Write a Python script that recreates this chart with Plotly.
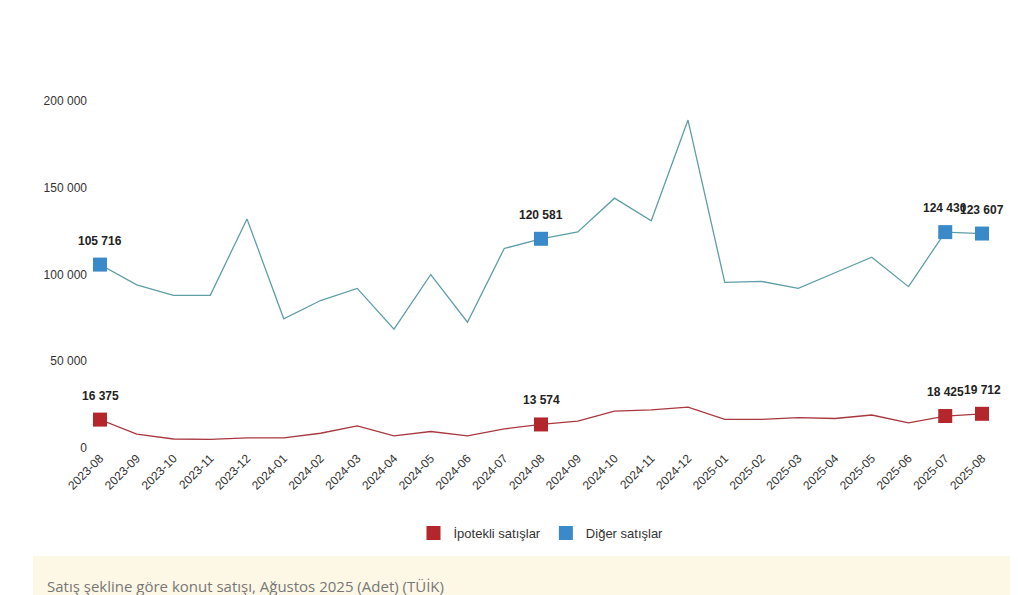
import plotly.graph_objects as go

months = ["2023-08","2023-09","2023-10","2023-11","2023-12","2024-01","2024-02","2024-03","2024-04","2024-05","2024-06","2024-07","2024-08","2024-09","2024-10","2024-11","2024-12","2025-01","2025-02","2025-03","2025-04","2025-05","2025-06","2025-07","2025-08"]
diger = [105716,94000,88000,88000,132000,74500,85000,92000,68500,100000,72500,115000,120581,124500,144000,131000,189000,95500,96000,92000,101000,110000,93000,124430,123607]
ipotekli = [16375,8000,5200,5000,5800,5800,8500,12700,7000,9500,7000,11000,13574,15500,21300,22000,23600,16500,16500,17500,17000,19000,14500,18425,19712]
marked = [0,12,23,24]
yticks = [0,50000,100000,150000,200000]
yticklabels = ["0","50 000","100 000","150 000","200 000"]

def fmt(v):
    return f"{v:,}".replace(",", " ")

fig = go.Figure()
fig.add_trace(go.Scatter(x=months, y=ipotekli, mode="lines", line=dict(color="#a8383f", width=1.3), showlegend=False, hoverinfo="skip", cliponaxis=False))
fig.add_trace(go.Scatter(x=months, y=diger, mode="lines", line=dict(color="#5e9ea8", width=1.3), showlegend=False, hoverinfo="skip", cliponaxis=False))
fig.add_trace(go.Scatter(x=[months[i] for i in marked], y=[ipotekli[i] for i in marked], mode="markers", cliponaxis=False,
    marker=dict(symbol="square", size=14, color="#b3262b"), name="İpotekli satışlar"))
fig.add_trace(go.Scatter(x=[months[i] for i in marked], y=[diger[i] for i in marked], mode="markers", cliponaxis=False,
    marker=dict(symbol="square", size=14, color="#3a8ac9"), name="Diğer satışlar"))

for i in marked:
    for s in (diger, ipotekli):
        fig.add_annotation(x=months[i], y=s[i], text=f"<b>{fmt(s[i])}</b>", showarrow=False,
                           yshift=24, font=dict(size=12, color="#222", family="Liberation Sans"))

fig.add_shape(type="rect", xref="paper", yref="paper", x0=-0.076, x1=1.044, y0=-0.45, y1=-0.311,
              fillcolor="#fdf8e6", line=dict(width=0), layer="below")
fig.add_annotation(xref="paper", yref="paper", x=-0.062, y=-0.398, xanchor="left", yanchor="middle",
                   text="Satış şekline göre konut satışı, Ağustos 2025 (Adet) (TÜİK)", showarrow=False,
                   font=dict(size=15, color="#777", family="Open Sans"))

fig.update_layout(
    width=1018, height=595, paper_bgcolor="white", plot_bgcolor="white",
    margin=dict(l=92, r=44, t=93, b=155),
    font=dict(family="Liberation Sans", size=12, color="#333"),
    legend=dict(orientation="h", x=0.5, xanchor="center", y=-0.245, yanchor="middle", font=dict(size=13)),
    xaxis=dict(type="category", tickangle=-45, showgrid=False, showline=False, ticks="",
               range=[0, 24], tickfont=dict(size=12)),
    yaxis=dict(range=[0, 200000], tickvals=yticks, ticktext=yticklabels, showgrid=False,
               zeroline=False, ticks="", tickfont=dict(size=12), ticklabelstandoff=12),
)
fig.write_html("out.html")
